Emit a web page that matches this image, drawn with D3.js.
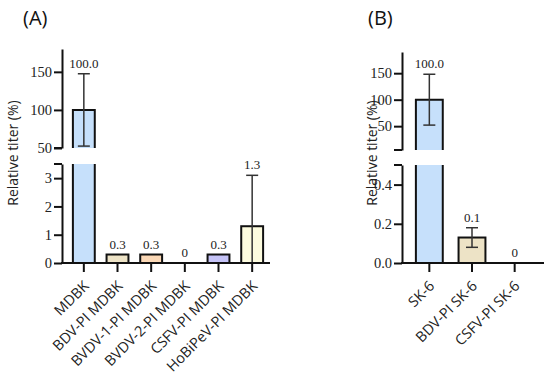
<!DOCTYPE html>
<html lang="en">
<head>
    <meta charset="UTF-8">
    <title>Relative titer</title>
    <script src="https://cdn.jsdelivr.net/npm/d3@7"></script>
    <style>
        body { margin: 0; background: #fff; }
        .tick-label, .val-label { font-family: "Liberation Serif", "DejaVu Serif", serif; }
        .cat-label, .y-title, .panel-title { font-family: "Open Sans", "Liberation Sans", sans-serif; }
    </style>
</head>
<body>
<script>
    // panel A data
    const catsA = ["MDBK", "BDV-PI MDBK", "BVDV-1-PI MDBK", "BVDV-2-PI MDBK", "CSFV-PI MDBK", "HoBiPeV-PI MDBK"];
    const valsA = [100, 0.3, 0.3, 0, 0.3, 1.3];
    const errA = [47.5, 0, 0, 0, 0, 1.8];
    const labelsA = ["100.0", "0.3", "0.3", "0", "0.3", "1.3"];
    const colorsA = ["#c6e0fb", "#ede3c6", "#fbd8b6", "#ffffff", "#c5c3f7", "#fdfcdf"];
    const upTicksA = [50, 100, 150];
    const lowTicksA = [0, 1, 2, 3];

    // panel B data
    const catsB = ["SK-6", "BDV-PI SK-6", "CSFV-PI SK-6"];
    const valsB = [100, 0.13, 0];
    const errB = [48, 0.05, 0];
    const labelsB = ["100.0", "0.1", "0"];
    const colorsB = ["#c6e0fb", "#ede3c6", "#ffffff"];
    const upTicksB = [50, 100, 150];
    const lowTicksB = [0, 0.2, 0.4];

    let svg = d3.select("body")
        .append("svg")
        .attr("width", 550)
        .attr("height", 380);

    function drawPanel(p) {
        let g = svg.append("g");

        let x = d3.scaleBand()
            .domain(p.cats)
            .range(p.xRange)
            .paddingInner(p.pad)
            .paddingOuter(p.pad / 2);

        let yUp = d3.scaleLinear().domain(p.upDomain).range(p.upRange);
        let yLow = d3.scaleLinear().domain(p.lowDomain).range(p.lowRange);
        let lowMax = p.lowDomain[1];
        let upMin = p.upDomain[0];

        // value -> y, piecewise over the break
        function yPos(v) {
            return v > lowMax ? yUp(v) : yLow(v);
        }

        // bars
        p.vals.forEach(function (v, i) {
            let x0 = x(p.cats[i]);
            let w = x.bandwidth();
            if (v <= 0) return;
            if (v > lowMax) {
                // lower piece, open at top
                g.append("rect")
                    .attr("x", x0).attr("y", yLow(lowMax))
                    .attr("width", w).attr("height", yLow(0) - yLow(lowMax))
                    .attr("fill", p.colors[i]);
                g.append("path")
                    .attr("d", "M" + x0 + "," + yLow(lowMax) + "V" + yLow(0) + "H" + (x0 + w) + "V" + yLow(lowMax))
                    .attr("fill", "none").attr("stroke", "#111").attr("stroke-width", 2);
                // upper piece, open at bottom
                g.append("rect")
                    .attr("x", x0).attr("y", yUp(v))
                    .attr("width", w).attr("height", yUp(upMin) - yUp(v))
                    .attr("fill", p.colors[i]);
                g.append("path")
                    .attr("d", "M" + x0 + "," + yUp(upMin) + "V" + yUp(v) + "H" + (x0 + w) + "V" + yUp(upMin))
                    .attr("fill", "none").attr("stroke", "#111").attr("stroke-width", 2);
            } else {
                g.append("rect")
                    .attr("x", x0).attr("y", yLow(v))
                    .attr("width", w).attr("height", yLow(0) - yLow(v))
                    .attr("fill", p.colors[i])
                    .attr("stroke", "#111").attr("stroke-width", 2);
            }
        });

        // error bars
        p.errs.forEach(function (e, i) {
            if (!e) return;
            let v = p.vals[i];
            let cx = x(p.cats[i]) + x.bandwidth() / 2;
            let hi = v + e, lo = v - e;
            let yHi = yPos(hi);
            let yLo = lo > 0 ? yPos(lo) : yLow(0);
            g.append("line")
                .attr("x1", cx).attr("x2", cx)
                .attr("y1", yHi).attr("y2", yLo)
                .attr("stroke", "#333").attr("stroke-width", 1.5);
            g.append("line")
                .attr("x1", cx - 6).attr("x2", cx + 6)
                .attr("y1", yHi).attr("y2", yHi)
                .attr("stroke", "#333").attr("stroke-width", 1.5);
            if (lo > 0) {
                g.append("line")
                    .attr("x1", cx - 6).attr("x2", cx + 6)
                    .attr("y1", yLo).attr("y2", yLo)
                    .attr("stroke", "#333").attr("stroke-width", 1.5);
            }
        });

        // value labels
        p.vals.forEach(function (v, i) {
            let top = yPos(v + (p.errs[i] || 0));
            g.append("text")
                .attr("class", "val-label")
                .attr("x", x(p.cats[i]) + x.bandwidth() / 2)
                .attr("y", top - 6)
                .attr("text-anchor", "middle")
                .attr("font-size", "13px")
                .attr("fill", "#222")
                .text(p.labels[i]);
        });

        // y axes (two segments)
        let upAxis = d3.axisLeft(yUp).tickValues(p.upTicks).tickSize(8).tickPadding(2).tickSizeOuter(0);
        let lowAxis = d3.axisLeft(yLow).tickValues(p.lowTicks).tickSize(8).tickPadding(2)
            .tickSizeOuter(0).tickFormat(p.lowFmt);

        [upAxis, lowAxis].forEach(function (ax) {
            let a = g.append("g")
                .attr("transform", "translate(" + p.axisX + ",0)")
                .call(ax);
            a.select(".domain").attr("stroke", "#111").attr("stroke-width", 2);
            a.selectAll(".tick line").attr("stroke", "#111").attr("stroke-width", 2);
            a.selectAll(".tick text")
                .attr("class", "tick-label")
                .attr("font-size", "14.5px")
                .attr("fill", "#222");
        });

        // caps at the break
        [yUp(upMin), yLow(lowMax)].forEach(function (yy) {
            g.append("line")
                .attr("x1", p.axisX - 8).attr("x2", p.axisX)
                .attr("y1", yy).attr("y2", yy)
                .attr("stroke", "#111").attr("stroke-width", 2);
        });

        // x axis
        g.append("line")
            .attr("x1", p.axisX - 1).attr("x2", p.xEnd)
            .attr("y1", yLow(0)).attr("y2", yLow(0))
            .attr("stroke", "#111").attr("stroke-width", 2);

        p.cats.forEach(function (c) {
            let cx = x(c) + x.bandwidth() / 2;
            g.append("line")
                .attr("x1", cx).attr("x2", cx)
                .attr("y1", yLow(0)).attr("y2", yLow(0) + 9)
                .attr("stroke", "#111").attr("stroke-width", 2);
            g.append("text")
                .attr("class", "cat-label")
                .attr("transform", "translate(" + (cx + 6) + "," + (yLow(0) + 24) + ") rotate(-45)")
                .attr("text-anchor", "end")
                .attr("font-size", "14.5px")
                .attr("fill", "#222")
                .text(c);
        });

        // y title
        g.append("text")
            .attr("class", "y-title")
            .attr("transform", "translate(" + p.titleX + ",153) rotate(-90)")
            .attr("text-anchor", "middle")
            .attr("font-size", "14px")
            .attr("fill", "#222")
            .text("Relative titer (%)");

        // panel letter
        g.append("text")
            .attr("class", "panel-title")
            .attr("x", p.letterX)
            .attr("y", 25)
            .attr("font-size", "20px")
            .attr("fill", "#111")
            .text(p.letter);
    }

    drawPanel({
        cats: catsA, vals: valsA, errs: errA, labels: labelsA, colors: colorsA,
        upTicks: upTicksA, lowTicks: lowTicksA, lowFmt: d3.format("d"),
        xRange: [67, 269], pad: 0.35, xEnd: 270, axisX: 62,
        upDomain: [50, 180], upRange: [148, 49],
        lowDomain: [0, 3.5], lowRange: [263, 164],
        titleX: 18, letterX: 23, letter: "(A)"
    });

    drawPanel({
        cats: catsB, vals: valsB, errs: errB, labels: labelsB, colors: colorsB,
        upTicks: upTicksB, lowTicks: lowTicksB, lowFmt: d3.format(".1f"),
        xRange: [408, 536], pad: 0.37, xEnd: 544, axisX: 402,
        upDomain: [5, 190], upRange: [150, 52],
        lowDomain: [0, 0.5], lowRange: [263, 165],
        titleX: 377, letterX: 368, letter: "(B)"
    });
</script>
</body>
</html>
